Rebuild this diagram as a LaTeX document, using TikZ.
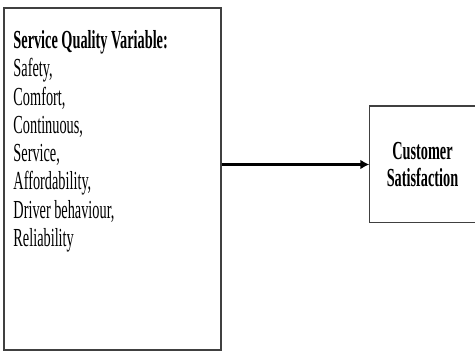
\documentclass[tikz,border=0pt]{standalone}
\usepackage{fontspec}
\setmainfont{Liberation Serif}[FakeStretch=0.55]
\usetikzlibrary{arrows.meta,positioning}
\tikzstyle{box} = [rectangle, inner sep=0pt, line width=1.5pt]
\tikzstyle{list} = [inner sep=0pt, align=left, font=\fontsize{26}{28.3}\selectfont]
\tikzstyle{line} = [draw, line width=2.4pt, -{Latex[length=9pt,width=10pt]}]

\begin{document}
\begin{tikzpicture}[x=1pt, y=1pt]
	\useasboundingbox (0,0) rectangle (475,351);
	\node[box, draw=black!75, minimum width=217pt, minimum height=342pt](qual) at (112.5,172){};
	\node[list, below right=23pt and 10pt of qual.north west](vars){\textbf{Service Quality Variable:}\\Safety,\\Comfort,\\Continuous,\\Service,\\Affordability,\\Driver behaviour,\\Reliability};
	\node[box, align=center, minimum width=105pt, minimum height=115pt, font=\fontsize{26}{27}\selectfont\bfseries](sat) at (422.5,186.5){Customer\\Satisfaction};
	
	\draw [black!75, line width=1.5pt] (sat.north east) -- (sat.north west) -- (sat.south west) -- (sat.south east);
	\path [line] (qual.east |- sat.west) -- (sat.west);
\end{tikzpicture}
\end{document}
